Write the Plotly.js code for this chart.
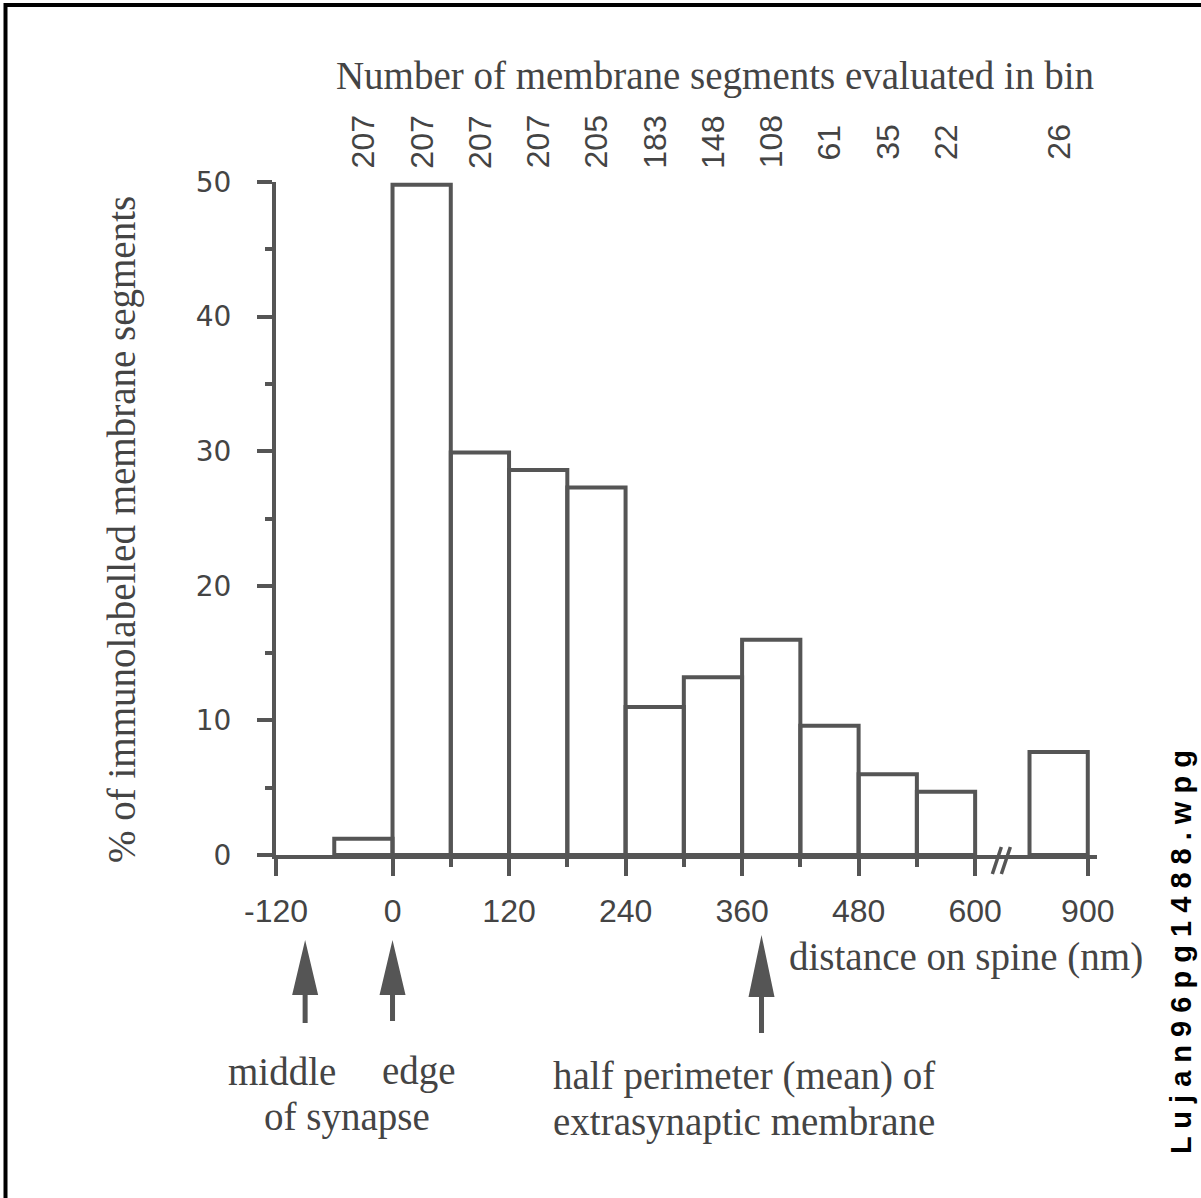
<!DOCTYPE html>
<html>
<head>
<meta charset="utf-8">
<script src="https://cdn.plot.ly/plotly-3.0.1.min.js"></script>
<style>
  html, body { margin: 0; padding: 0; background: #ffffff; }
  #chart { width: 1201px; height: 1198px; }
</style>
</head>
<body>
<div id="chart"></div>
<script>
// ---------------- data ----------------
const binStartNm = [-60, 0, 60, 120, 180, 240, 300, 360, 420, 480, 540, 840];
const binWidthNm = 60;
const percentLabelled = [1.2, 49.8, 29.9, 28.6, 27.3, 11.0, 13.2, 16.0, 9.6, 6.0, 4.7, 7.65];
const segmentsEvaluated = [207, 207, 207, 207, 205, 183, 148, 108, 61, 35, 22, 26];
const majorTickNm = [-120, 0, 120, 240, 360, 480, 600, 900];
const majorTickLabels = ['-120', '0', '120', '240', '360', '480', '600', '900'];
const minorTickNm = [60, 180, 300, 420, 540];
const yMajorTicks = [0, 10, 20, 30, 40, 50];
const yMinorTicks = [5, 15, 25, 35, 45];
const markerNm = [-90, 0, 380];
const topTitle = 'Number of membrane segments evaluated in bin';
const yTitle = '% of immunolabelled membrane segments';
const xTitle = 'distance on spine (nm)';
const fileTag = 'Lujan96pg1488.wpg';

// axis break: values beyond the break are shifted left
const breakAfterNm = 620;
const breakShiftNm = 184;
const toDisplay = v => (v > breakAfterNm ? v - breakShiftNm : v);

// ---------------- layout helpers ----------------
const W = 1201, H = 1198;
const L = 276, T = 182, PW = 821, PH = 673;
const xRange = [-120, 725.5];
const pxPerNm = PW / (xRange[1] - xRange[0]);
const px = p => (p - L) / PW;          // pixel x -> paper
const py = p => (T + PH - p) / PH;     // pixel y -> paper

const ink = '#555555';
const textInk = '#444444';
const serif = 'Liberation Serif, Times New Roman, serif';
const sans = 'Liberation Sans, Arial, sans-serif';

const centers = binStartNm.map(s => toDisplay(s + binWidthNm / 2));

const bars = {
  type: 'bar',
  x: centers,
  y: percentLabelled,
  width: binStartNm.map(() => binWidthNm),
  marker: { color: 'rgba(0,0,0,0)', line: { color: ink, width: 4 } },
  hoverinfo: 'skip',
  showlegend: false
};

const annotations = [];
// counts above bars
centers.forEach((c, i) => {
  annotations.push({
    xref: 'x', yref: 'paper', x: c, y: py(142),
    text: String(segmentsEvaluated[i]), showarrow: false, textangle: -90,
    xanchor: 'center', yanchor: 'middle',
    font: { family: sans, size: 32, color: textInk }
  });
});
// y title
annotations.push({
  xref: 'paper', yref: 'paper', x: px(122), y: py(530), text: yTitle,
  showarrow: false, textangle: -90, xanchor: 'center', yanchor: 'middle',
  font: { family: serif, size: 39, color: textInk }
});
// x title
annotations.push({
  xref: 'paper', yref: 'paper', x: px(966), y: py(957), text: xTitle,
  showarrow: false, xanchor: 'center', yanchor: 'middle',
  font: { family: serif, size: 39, color: textInk }
});
// marker labels
const lbl = (t, cx, cy, anchor) => annotations.push({
  xref: 'paper', yref: 'paper', x: px(cx), y: py(cy), text: t, showarrow: false,
  xanchor: anchor || 'center', yanchor: 'middle',
  font: { family: serif, size: 39, color: textInk }
});
lbl('middle', 282, 1071);
lbl('edge', 419, 1071);
lbl('of synapse', 347, 1117);
lbl('half perimeter (mean) of', 551, 1076, 'left');
lbl('extrasynaptic membrane', 551, 1122, 'left');
// file tag
annotations.push({
  xref: 'paper', yref: 'paper', x: px(1181), y: py(952),
  text: fileTag.split('').join(' '), showarrow: false, textangle: -90,
  xanchor: 'center', yanchor: 'middle',
  font: { family: sans, size: 29, color: '#000000', weight: 700 }
});

const shapes = [];
// frame lines
shapes.push({ type: 'line', xref: 'paper', yref: 'paper', x0: px(5.5), x1: px(5.5), y0: py(3), y1: py(1198), line: { color: '#000', width: 4 } });
shapes.push({ type: 'line', xref: 'paper', yref: 'paper', x0: px(4), x1: px(1201), y0: py(5), y1: py(5), line: { color: '#000', width: 4 } });

// axis break marks "//"
const breakCenter = breakAfterNm + 7;
[-4.5, 4.5].forEach(off => {
  const xc = breakCenter + off / pxPerNm;
  shapes.push({
    type: 'line', xref: 'x', yref: 'paper',
    x0: xc - 4.5 / pxPerNm, y0: py(874), x1: xc + 4.5 / pxPerNm, y1: py(847),
    line: { color: ink, width: 3.5 }
  });
});

// arrows
const headTop = [940, 940, 935];
const headBase = [995, 995, 997];
const shaftEnd = [1023, 1021, 1033];
markerNm.forEach((m, i) => {
  const hw = 13 / pxPerNm, sw = 2.5 / pxPerNm;
  const path = `M ${m},${py(headTop[i])} L ${m + hw},${py(headBase[i])} L ${m + sw},${py(headBase[i])} ` +
    `L ${m + sw},${py(shaftEnd[i])} L ${m - sw},${py(shaftEnd[i])} L ${m - sw},${py(headBase[i])} L ${m - hw},${py(headBase[i])} Z`;
  shapes.push({ type: 'path', xref: 'x', yref: 'paper', path: path, fillcolor: ink, line: { width: 0 } });
});

const layout = {
  width: W, height: H,
  margin: { l: L, t: T, r: W - L - PW, b: H - T - PH, pad: 0 },
  paper_bgcolor: '#ffffff', plot_bgcolor: 'rgba(0,0,0,0)',
  showlegend: false,
  bargap: 0,
  title: {
    text: topTitle, xref: 'paper', x: px(715), xanchor: 'center',
    yref: 'container', y: 1 - 75 / H, yanchor: 'middle',
    font: { family: serif, size: 39, color: textInk }
  },
  xaxis: {
    range: xRange, showgrid: false, zeroline: false,
    showline: true, linecolor: ink, linewidth: 4,
    ticks: 'outside', ticklen: 17, tickwidth: 4, tickcolor: ink,
    tickmode: 'array', tickvals: majorTickNm.map(toDisplay), ticktext: majorTickLabels,
    tickfont: { family: sans, size: 32, color: textInk },
    ticklabelstandoff: 8,
    minor: { tickmode: 'array', tickvals: minorTickNm, ticks: 'outside', ticklen: 8, tickwidth: 4, tickcolor: ink, showgrid: false },
    fixedrange: true
  },
  yaxis: {
    range: [0, 50], showgrid: false, zeroline: false,
    showline: true, linecolor: ink, linewidth: 4,
    ticks: 'outside', ticklen: 15, tickwidth: 4, tickcolor: ink,
    tickmode: 'array', tickvals: yMajorTicks, ticktext: yMajorTicks.map(String),
    tickfont: { family: 'DejaVu Sans, sans-serif', size: 28, color: textInk },
    ticklabelstandoff: 20,
    minor: { tickmode: 'array', tickvals: yMinorTicks, ticks: 'outside', ticklen: 7, tickwidth: 4, tickcolor: ink, showgrid: false },
    fixedrange: true
  },
  annotations: annotations,
  shapes: shapes
};

Plotly.newPlot('chart', [bars], layout, { staticPlot: true, displayModeBar: false });
</script>
</body>
</html>
